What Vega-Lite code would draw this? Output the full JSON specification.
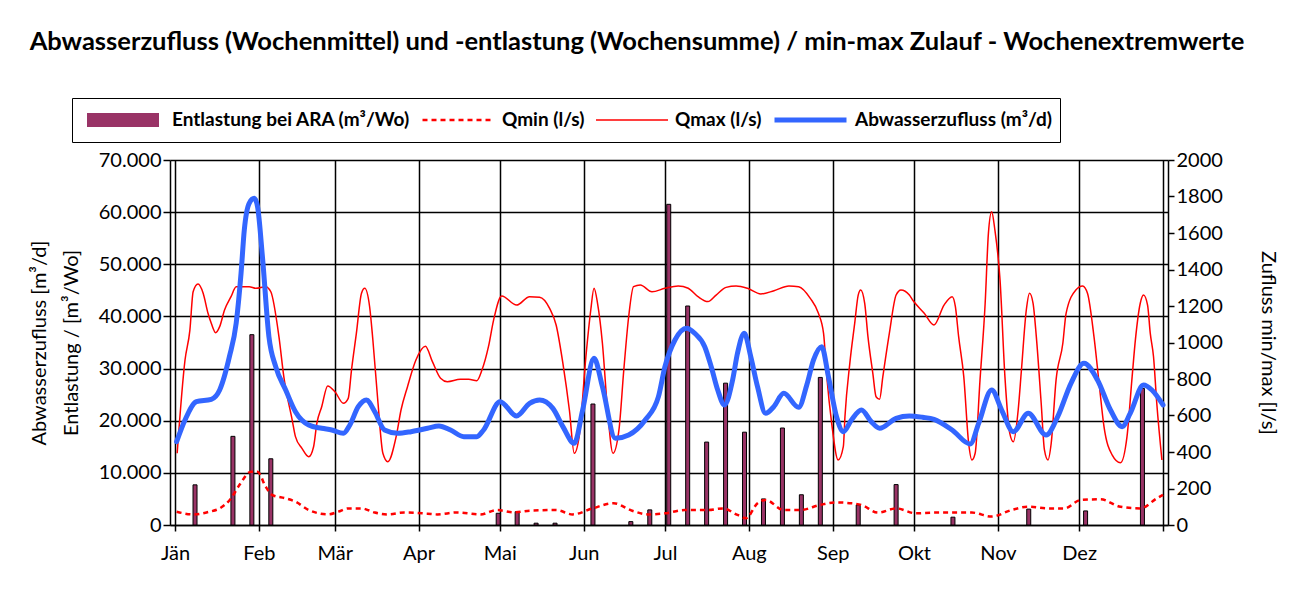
{
  "$schema": "https://vega.github.io/schema/vega-lite/v6.json",
  "width": 998,
  "height": 365,
  "autosize": {"type": "none"},
  "padding": {"left": 170, "top": 160, "right": 128, "bottom": 85},
  "background": "white",
  "title": {
    "text": "Abwasserzufluss (Wochenmittel) und -entlastung (Wochensumme) / min-max Zulauf - Wochenextremwerte",
    "font": "Lato", "fontSize": 25.5, "fontWeight": "bold", "color": "black",
    "anchor": "middle", "frame": "group", "dx": -32, "dy": -38
  },
  "datasets": {
    "bars": [
      {"d": 7.4, "v": 7700}, {"d": 21.4, "v": 17000}, {"d": 28.4, "v": 36500}, {"d": 35.4, "v": 12700},
      {"d": 119.4, "v": 2250}, {"d": 126.4, "v": 2550}, {"d": 133.4, "v": 350}, {"d": 140.4, "v": 350},
      {"d": 154.4, "v": 23200}, {"d": 168.4, "v": 650}, {"d": 175.4, "v": 2900}, {"d": 182.4, "v": 61500},
      {"d": 189.4, "v": 42000}, {"d": 196.4, "v": 15900}, {"d": 203.4, "v": 27200}, {"d": 210.4, "v": 17800},
      {"d": 217.4, "v": 5000}, {"d": 224.4, "v": 18600}, {"d": 231.4, "v": 5800}, {"d": 238.4, "v": 28300},
      {"d": 252.4, "v": 3850}, {"d": 266.4, "v": 7750}, {"d": 287.4, "v": 1500}, {"d": 315.4, "v": 3050},
      {"d": 336.4, "v": 2700}, {"d": 357.4, "v": 26200}
    ],
    "zufluss": [
      {"d": 0.6, "v": 15980}, {"d": 3.7, "v": 20140}, {"d": 7.9, "v": 23650}, {"d": 13.4, "v": 24100},
      {"d": 16.5, "v": 25900}, {"d": 20.1, "v": 32280}, {"d": 22.6, "v": 38690}, {"d": 24.4, "v": 48270},
      {"d": 25.6, "v": 56580}, {"d": 27.4, "v": 61700}, {"d": 29.3, "v": 62660}, {"d": 30.5, "v": 61050},
      {"d": 32.3, "v": 51460}, {"d": 34.7, "v": 36110}, {"d": 37.2, "v": 30360}, {"d": 40.9, "v": 25890},
      {"d": 44.5, "v": 21730}, {"d": 49.4, "v": 19180}, {"d": 54.2, "v": 18550}, {"d": 57.9, "v": 18220},
      {"d": 62.2, "v": 17590}, {"d": 64.6, "v": 19180}, {"d": 67.7, "v": 22690}, {"d": 70.7, "v": 23980},
      {"d": 73.8, "v": 21730}, {"d": 77.4, "v": 18220}, {"d": 82.3, "v": 17590}, {"d": 87.2, "v": 17900},
      {"d": 93.3, "v": 18550}, {"d": 97.5, "v": 18990}, {"d": 101.8, "v": 18220}, {"d": 106.7, "v": 16940},
      {"d": 111.5, "v": 16940}, {"d": 114.0, "v": 18220}, {"d": 120.1, "v": 23650}, {"d": 126.2, "v": 20910},
      {"d": 131.0, "v": 23330}, {"d": 134.7, "v": 23980}, {"d": 139.6, "v": 22370}, {"d": 143.3, "v": 18860},
      {"d": 147.5, "v": 15660}, {"d": 150.6, "v": 22050}, {"d": 154.8, "v": 31970}, {"d": 157.9, "v": 26530},
      {"d": 162.7, "v": 16630}, {"d": 167.6, "v": 17260}, {"d": 173.7, "v": 20140}, {"d": 178.6, "v": 24610},
      {"d": 181.0, "v": 30360}, {"d": 184.7, "v": 35480}, {"d": 189.0, "v": 37730}, {"d": 192.0, "v": 36770},
      {"d": 195.7, "v": 34200}, {"d": 198.1, "v": 30360}, {"d": 200.5, "v": 25890}, {"d": 203.0, "v": 23020},
      {"d": 206.0, "v": 27810}, {"d": 207.8, "v": 32930}, {"d": 210.3, "v": 36770}, {"d": 212.7, "v": 32280},
      {"d": 215.2, "v": 26530}, {"d": 218.2, "v": 21420}, {"d": 221.2, "v": 22690}, {"d": 224.9, "v": 25250},
      {"d": 230.4, "v": 22570}, {"d": 233.4, "v": 26850}, {"d": 235.9, "v": 31650}, {"d": 238.9, "v": 34200},
      {"d": 241.4, "v": 28440}, {"d": 244.4, "v": 20770}, {"d": 246.9, "v": 17900}, {"d": 249.9, "v": 20140},
      {"d": 253.6, "v": 22050}, {"d": 257.2, "v": 19820}, {"d": 260.3, "v": 18550}, {"d": 266.4, "v": 20460},
      {"d": 271.3, "v": 20910}, {"d": 276.2, "v": 20660}, {"d": 280.4, "v": 20270}, {"d": 287.1, "v": 18220},
      {"d": 293.8, "v": 15530}, {"d": 296.9, "v": 19500}, {"d": 301.7, "v": 25890}, {"d": 305.4, "v": 22050},
      {"d": 309.7, "v": 17900}, {"d": 315.2, "v": 21420}, {"d": 321.8, "v": 17260}, {"d": 326.1, "v": 20770},
      {"d": 331.0, "v": 27170}, {"d": 335.8, "v": 31010}, {"d": 340.8, "v": 27810}, {"d": 345.6, "v": 22050},
      {"d": 349.9, "v": 18860}, {"d": 352.9, "v": 21420}, {"d": 357.8, "v": 26850}, {"d": 360.9, "v": 25890},
      {"d": 365, "v": 23020}
    ],
    "qmax": [
      {"d": 0.8, "v": 393}, {"d": 3.7, "v": 904}, {"d": 5.5, "v": 1068}, {"d": 6.7, "v": 1278},
      {"d": 8.5, "v": 1320}, {"d": 10.4, "v": 1270}, {"d": 12.2, "v": 1160}, {"d": 13.4, "v": 1105},
      {"d": 15.0, "v": 1054}, {"d": 16.5, "v": 1087}, {"d": 18.3, "v": 1178}, {"d": 20.7, "v": 1251},
      {"d": 22.6, "v": 1306}, {"d": 27.4, "v": 1306}, {"d": 29.9, "v": 1297}, {"d": 33.5, "v": 1306},
      {"d": 35.4, "v": 1278}, {"d": 38.4, "v": 1032}, {"d": 40.2, "v": 813}, {"d": 43.3, "v": 575},
      {"d": 44.5, "v": 484}, {"d": 46.9, "v": 420}, {"d": 49.4, "v": 374}, {"d": 51.2, "v": 429},
      {"d": 52.4, "v": 557}, {"d": 54.2, "v": 648}, {"d": 56.4, "v": 762}, {"d": 59.1, "v": 730},
      {"d": 62.2, "v": 667}, {"d": 64.0, "v": 694}, {"d": 65.2, "v": 849}, {"d": 67.0, "v": 1050},
      {"d": 68.9, "v": 1270}, {"d": 70.1, "v": 1297}, {"d": 71.9, "v": 1196}, {"d": 73.1, "v": 1014},
      {"d": 75.0, "v": 667}, {"d": 76.8, "v": 393}, {"d": 78.6, "v": 347}, {"d": 81.7, "v": 484},
      {"d": 83.5, "v": 630}, {"d": 85.9, "v": 758}, {"d": 89.0, "v": 904}, {"d": 92.5, "v": 980},
      {"d": 95.1, "v": 895}, {"d": 98.1, "v": 804}, {"d": 100.6, "v": 785}, {"d": 105.4, "v": 798},
      {"d": 108.5, "v": 798}, {"d": 111.5, "v": 791}, {"d": 113.4, "v": 849}, {"d": 115.8, "v": 977},
      {"d": 117.7, "v": 1123}, {"d": 120.7, "v": 1255}, {"d": 126.2, "v": 1205}, {"d": 131.0, "v": 1251},
      {"d": 134.7, "v": 1248}, {"d": 138.4, "v": 1187}, {"d": 140.8, "v": 1096}, {"d": 143.3, "v": 886},
      {"d": 145.7, "v": 630}, {"d": 147.5, "v": 393}, {"d": 149.3, "v": 484}, {"d": 151.8, "v": 922},
      {"d": 153.6, "v": 1178}, {"d": 154.8, "v": 1297}, {"d": 156.1, "v": 1215}, {"d": 157.9, "v": 996},
      {"d": 159.7, "v": 648}, {"d": 161.8, "v": 393}, {"d": 164.0, "v": 520}, {"d": 165.8, "v": 849},
      {"d": 167.6, "v": 1141}, {"d": 169.4, "v": 1306}, {"d": 171.9, "v": 1315}, {"d": 176.2, "v": 1278},
      {"d": 181.0, "v": 1297}, {"d": 185.9, "v": 1310}, {"d": 189.6, "v": 1297}, {"d": 193.2, "v": 1251},
      {"d": 196.9, "v": 1224}, {"d": 199.9, "v": 1260}, {"d": 203.6, "v": 1302}, {"d": 207.3, "v": 1310},
      {"d": 211.5, "v": 1297}, {"d": 216.4, "v": 1266}, {"d": 221.3, "v": 1284}, {"d": 226.8, "v": 1310},
      {"d": 230.4, "v": 1306}, {"d": 234.7, "v": 1242}, {"d": 237.7, "v": 1160}, {"d": 239.6, "v": 1050},
      {"d": 240.8, "v": 813}, {"d": 242.6, "v": 557}, {"d": 245.0, "v": 356}, {"d": 246.9, "v": 429},
      {"d": 247.5, "v": 593}, {"d": 249.3, "v": 886}, {"d": 251.1, "v": 1105}, {"d": 252.4, "v": 1260},
      {"d": 253.3, "v": 1288}, {"d": 254.8, "v": 1215}, {"d": 256.0, "v": 1032}, {"d": 257.8, "v": 831},
      {"d": 259.0, "v": 703}, {"d": 260.3, "v": 689}, {"d": 261.5, "v": 813}, {"d": 263.9, "v": 1050},
      {"d": 266.4, "v": 1260}, {"d": 268.2, "v": 1288}, {"d": 271.3, "v": 1260}, {"d": 272.5, "v": 1233},
      {"d": 276.8, "v": 1160}, {"d": 280.4, "v": 1096}, {"d": 284.1, "v": 1205}, {"d": 287.1, "v": 1251},
      {"d": 288.3, "v": 1196}, {"d": 289.5, "v": 1032}, {"d": 291.4, "v": 813}, {"d": 293.2, "v": 448},
      {"d": 294.4, "v": 356}, {"d": 295.6, "v": 393}, {"d": 297.4, "v": 795}, {"d": 299.3, "v": 1215},
      {"d": 300.5, "v": 1598}, {"d": 301.7, "v": 1717}, {"d": 302.9, "v": 1616}, {"d": 304.8, "v": 1342},
      {"d": 306.6, "v": 813}, {"d": 308.4, "v": 502}, {"d": 309.7, "v": 456}, {"d": 311.5, "v": 630},
      {"d": 312.7, "v": 849}, {"d": 314.5, "v": 1178}, {"d": 315.7, "v": 1270}, {"d": 317.0, "v": 1215},
      {"d": 318.2, "v": 1032}, {"d": 320.0, "v": 667}, {"d": 321.2, "v": 411}, {"d": 322.5, "v": 356},
      {"d": 323.7, "v": 448}, {"d": 325.5, "v": 795}, {"d": 328.0, "v": 996}, {"d": 329.2, "v": 1160},
      {"d": 332.8, "v": 1288}, {"d": 335.3, "v": 1310}, {"d": 337.1, "v": 1270}, {"d": 339.5, "v": 1032},
      {"d": 341.4, "v": 776}, {"d": 343.2, "v": 539}, {"d": 346.2, "v": 384}, {"d": 349.3, "v": 341},
      {"d": 351.7, "v": 484}, {"d": 353.6, "v": 813}, {"d": 354.8, "v": 1014}, {"d": 356.6, "v": 1215},
      {"d": 357.8, "v": 1260}, {"d": 359.3, "v": 1205}, {"d": 360.3, "v": 1050}, {"d": 361.5, "v": 922},
      {"d": 362.7, "v": 667}, {"d": 364.6, "v": 356}
    ],
    "qmin": [
      {"d": 0.6, "v": 73}, {"d": 6.7, "v": 58}, {"d": 12.8, "v": 73}, {"d": 16.5, "v": 91},
      {"d": 20.7, "v": 146}, {"d": 23.8, "v": 219}, {"d": 28.1, "v": 292}, {"d": 30.5, "v": 292},
      {"d": 33.5, "v": 210}, {"d": 36.0, "v": 164}, {"d": 40.9, "v": 146}, {"d": 44.5, "v": 128},
      {"d": 49.4, "v": 82}, {"d": 56.7, "v": 58}, {"d": 60.3, "v": 73}, {"d": 64.0, "v": 91},
      {"d": 68.9, "v": 91}, {"d": 73.8, "v": 68}, {"d": 78.6, "v": 58}, {"d": 84.7, "v": 69},
      {"d": 93.3, "v": 62}, {"d": 96.9, "v": 58}, {"d": 104.2, "v": 69}, {"d": 112.8, "v": 58},
      {"d": 118.9, "v": 82}, {"d": 125.0, "v": 69}, {"d": 131.0, "v": 78}, {"d": 140.8, "v": 82},
      {"d": 146.9, "v": 58}, {"d": 154.2, "v": 91}, {"d": 162.1, "v": 119}, {"d": 168.9, "v": 78},
      {"d": 174.9, "v": 58}, {"d": 181.0, "v": 64}, {"d": 188.4, "v": 82}, {"d": 196.9, "v": 82},
      {"d": 202.4, "v": 91}, {"d": 207.8, "v": 55}, {"d": 210.9, "v": 37}, {"d": 215.2, "v": 119},
      {"d": 218.2, "v": 137}, {"d": 224.9, "v": 82}, {"d": 231.0, "v": 82}, {"d": 238.3, "v": 110},
      {"d": 243.8, "v": 124}, {"d": 249.9, "v": 119}, {"d": 253.6, "v": 110}, {"d": 259.7, "v": 68},
      {"d": 266.4, "v": 91}, {"d": 273.7, "v": 64}, {"d": 279.8, "v": 68}, {"d": 294.4, "v": 68},
      {"d": 301.7, "v": 46}, {"d": 309.0, "v": 82}, {"d": 315.2, "v": 100}, {"d": 322.5, "v": 91},
      {"d": 328.5, "v": 91}, {"d": 334.6, "v": 137}, {"d": 341.9, "v": 141}, {"d": 349.3, "v": 100},
      {"d": 356.6, "v": 91}, {"d": 362.7, "v": 146}, {"d": 365, "v": 165}
    ]
  },
  "encoding": {
    "x": {
      "field": "d", "type": "quantitative",
      "scale": {"domain": [0, 365], "nice": false, "zero": false},
      "axis": {
        "title": null, "grid": true,
        "values": [0, 31, 59, 90, 120, 151, 181, 212, 243, 273, 304, 334, 365],
        "labelExpr": "datum.value == 365 ? '' : ['Jän','Feb','Mär','Apr','Mai','Jun','Jul','Aug','Sep','Okt','Nov','Dez'][indexof([0,31,59,90,120,151,181,212,243,273,304,334], datum.value)]",
        "labelAngle": 0, "labelPadding": 12, "tickSize": 6, "labelFlush": false, "labelOverlap": false
      }
    }
  },
  "layer": [
    {
      "data": {"name": "bars"},
      "mark": {"type": "bar", "size": 4, "stroke": "black", "strokeWidth": 1},
      "encoding": {
        "y": {
          "field": "v", "type": "quantitative",
          "scale": {"domain": [0, 70000], "nice": false},
          "axis": {
            "orient": "left", "grid": true,
            "values": [0, 10000, 20000, 30000, 40000, 50000, 60000, 70000],
            "labelExpr": "replace(format(datum.value, ','), ',', '.')",
            "title": ["Abwasserzufluss [m³/d]", "Entlastung / [m³/Wo]"],
            "titleLineHeight": 32, "titlePadding": 17, "tickSize": 7
          }
        },
        "color": {
          "datum": "Entlastung bei ARA (m³/Wo)", "type": "nominal",
          "scale": {
            "domain": ["Entlastung bei ARA (m³/Wo)", "Qmin (l/s)", "Qmax (l/s)", "Abwasserzufluss (m³/d)"],
            "range": ["#993366", "#FF0000", "#FF0000", "#3366FF"]
          },
          "legend": {
            "title": null, "orient": "none", "legendX": -98, "legendY": -62,
            "direction": "horizontal", "strokeColor": "black", "padding": 8, "clipHeight": 28,
            "symbolSize": 5184, "symbolType": "stroke", "labelFont": "Lato", "labelFontSize": 19, "labelFontWeight": "bold",
            "labelColor": "black", "labelOffset": 6, "columnPadding": 10, "symbolOpacity": 1, "labelLimit": 400
          }
        }
      }
    },
    {
      "data": {"name": "qmin"},
      "mark": {"type": "line", "interpolate": "monotone"},
      "encoding": {
        "y": {
          "field": "v", "type": "quantitative",
          "scale": {"domain": [0, 2000], "nice": false},
          "axis": {
            "orient": "right", "grid": false,
            "values": [0, 200, 400, 600, 800, 1000, 1200, 1400, 1600, 1800, 2000],
            "format": "d", "title": "Zufluss min/max [l/s]", "titlePadding": 35, "tickSize": 6
          }
        },
        "color": {"datum": "Qmin (l/s)", "type": "nominal"},
        "strokeDash": {
          "datum": "Qmin (l/s)", "type": "nominal",
          "scale": {
            "type": "ordinal",
            "domain": ["Entlastung bei ARA (m³/Wo)", "Qmin (l/s)", "Qmax (l/s)", "Abwasserzufluss (m³/d)"],
            "range": [[1, 0], [5, 4], [1, 0], [1, 0]]
          }
        },
        "strokeWidth": {
          "datum": "Qmin (l/s)", "type": "nominal",
          "scale": {
            "type": "ordinal",
            "domain": ["Entlastung bei ARA (m³/Wo)", "Qmin (l/s)", "Qmax (l/s)", "Abwasserzufluss (m³/d)"],
            "range": [14, 2.5, 1.5, 5]
          }
        }
      }
    },
    {
      "data": {"name": "qmax"},
      "mark": {"type": "line", "interpolate": "monotone"},
      "encoding": {
        "y": {"field": "v", "type": "quantitative", "scale": {"domain": [0, 2000], "nice": false}, "axis": null},
        "color": {"datum": "Qmax (l/s)", "type": "nominal"},
        "strokeWidth": {
          "datum": "Qmax (l/s)", "type": "nominal",
          "scale": {
            "type": "ordinal",
            "domain": ["Entlastung bei ARA (m³/Wo)", "Qmin (l/s)", "Qmax (l/s)", "Abwasserzufluss (m³/d)"],
            "range": [14, 2.5, 1.5, 5]
          }
        }
      }
    },
    {
      "data": {"name": "zufluss"},
      "mark": {"type": "line", "interpolate": "monotone", "strokeCap": "round", "strokeJoin": "round"},
      "encoding": {
        "y": {"field": "v", "type": "quantitative", "scale": {"domain": [0, 70000], "nice": false}, "axis": null},
        "color": {"datum": "Abwasserzufluss (m³/d)", "type": "nominal"},
        "strokeWidth": {
          "datum": "Abwasserzufluss (m³/d)", "type": "nominal",
          "scale": {
            "type": "ordinal",
            "domain": ["Entlastung bei ARA (m³/Wo)", "Qmin (l/s)", "Qmax (l/s)", "Abwasserzufluss (m³/d)"],
            "range": [14, 2.5, 1.5, 5]
          }
        }
      }
    }
  ],
  "resolve": {"scale": {"y": "independent"}},
  "config": {
    "view": {"stroke": null},
    "axis": {
      "domainColor": "black", "tickColor": "black", "gridColor": "black",
      "domainWidth": 1.5, "tickWidth": 1.5, "gridWidth": 1.5, "gridOpacity": 1,
      "labelFont": "Lato", "labelFontSize": 20, "labelColor": "black",
      "titleFont": "Lato", "titleFontSize": 20, "titleFontWeight": "normal", "titleColor": "black"
    }
  }
}
